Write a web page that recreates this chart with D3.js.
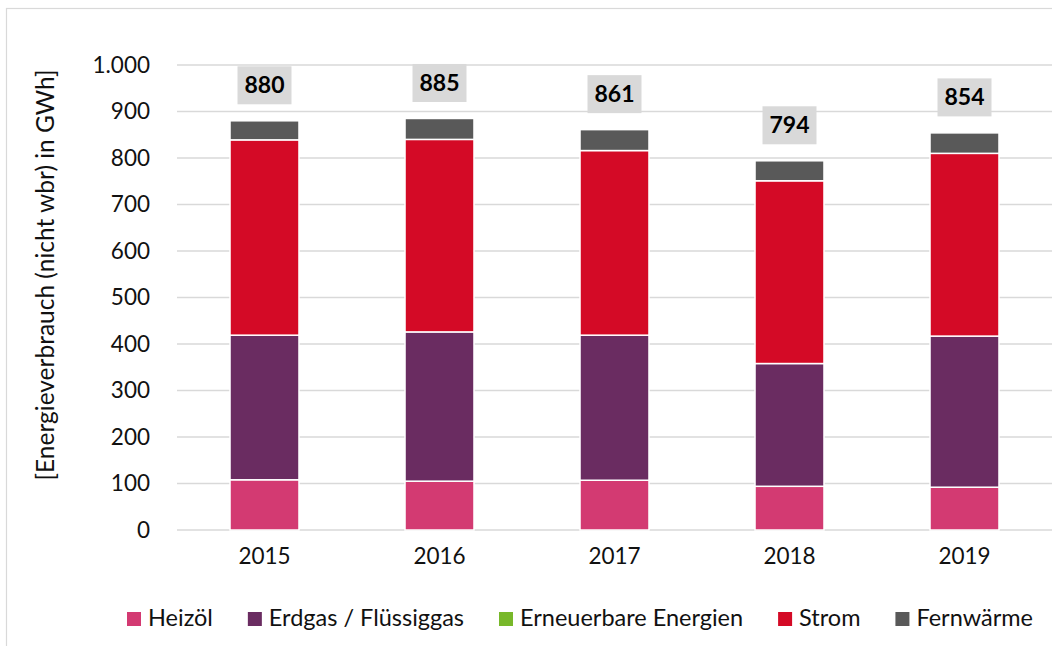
<!DOCTYPE html>
<html>
<head>
<meta charset="utf-8">
<script src="https://cdn.jsdelivr.net/npm/d3@7"></script>
<style>
  body { margin: 0; background: #fff; }
  svg { display: block; font-family: Lato, "Open Sans", sans-serif; }
</style>
</head>
<body>
<div id="chart"></div>
<script>
// Data
const years = ["2015", "2016", "2017", "2018", "2019"];
const seriesNames = ["Heizöl", "Erdgas / Flüssiggas", "Erneuerbare Energien", "Strom", "Fernwärme"];
const heizoel = [108, 105, 107, 94, 92];
const erdgas = [311, 321, 312, 264, 325];
const erneuerbar = [0, 0, 0, 0, 0];
const strom = [420, 414, 397, 393, 393];
const fernwaerme = [41, 45, 45, 43, 44];
const totals = [880, 885, 861, 794, 854];
const yTicks = [0, 100, 200, 300, 400, 500, 600, 700, 800, 900, 1000];
const colors = ["#d33a72", "#6a2c61", "#78b82a", "#d40a26", "#595959"];

const width = 1052;
const height = 646;

const table = years.map((y, i) => ({
  year: y,
  "Heizöl": heizoel[i],
  "Erdgas / Flüssiggas": erdgas[i],
  "Erneuerbare Energien": erneuerbar[i],
  "Strom": strom[i],
  "Fernwärme": fernwaerme[i],
  total: totals[i]
}));

const svg = d3.select("#chart")
  .append("svg")
  .attr("width", width)
  .attr("height", height);

// chart frame
svg.append("rect")
  .attr("x", 6.5).attr("y", 8.5)
  .attr("width", 1100).attr("height", 700)
  .attr("fill", "none")
  .attr("stroke", "#d9d9d9")
  .attr("stroke-width", 1.2);

const x = d3.scaleBand()
  .domain(years)
  .range([177, 1052])
  .paddingInner(0.606)
  .paddingOuter(0.303);

const y = d3.scaleLinear()
  .domain([0, 1000])
  .range([530, 65]);

const fmt = d3.formatLocale({ decimal: ",", thousands: ".", grouping: [3], currency: ["", "€"] }).format(",d");

// gridlines
svg.append("g")
  .selectAll("line")
  .data(yTicks)
  .enter()
  .append("line")
  .attr("x1", 177)
  .attr("x2", 1052)
  .attr("y1", d => y(d))
  .attr("y2", d => y(d))
  .attr("stroke", "#d9d9d9")
  .attr("stroke-width", 1.5);

// y axis labels
const yAxis = svg.append("g")
  .attr("transform", "translate(150,0)")
  .call(d3.axisLeft(y).tickValues(yTicks).tickFormat(fmt).tickSize(0).tickPadding(0));
yAxis.select(".domain").remove();
yAxis.selectAll("text")
  .attr("font-family", "Lato, sans-serif")
  .attr("font-size", 22.5)
  .attr("fill", "#111");

// x axis labels
const xAxis = svg.append("g")
  .attr("transform", "translate(0,548)")
  .call(d3.axisBottom(x).tickSize(0).tickPadding(0));
xAxis.select(".domain").remove();
xAxis.selectAll("text")
  .attr("font-family", "Lato, sans-serif")
  .attr("font-size", 22.5)
  .attr("fill", "#111");

// y axis title
svg.append("text")
  .attr("transform", "translate(54,275) rotate(-90)")
  .attr("text-anchor", "middle")
  .attr("font-size", 24.5)
  .attr("fill", "#111")
  .text("[Energieverbrauch (nicht wbr) in GWh]");

// stacked bars
const stack = d3.stack().keys(seriesNames);
const layers = stack(table);

svg.append("g")
  .selectAll("g")
  .data(layers)
  .enter()
  .append("g")
  .attr("fill", (d, i) => colors[i])
  .selectAll("rect")
  .data(d => d.filter(s => s[1] - s[0] > 0))
  .enter()
  .append("rect")
  .attr("x", d => x(d.data.year))
  .attr("width", x.bandwidth())
  .attr("y", d => y(d[1]))
  .attr("height", d => y(d[0]) - y(d[1]))
  .attr("stroke", "#fff")
  .attr("stroke-width", 1.5);

// total labels
const labels = svg.append("g")
  .selectAll("g")
  .data(table)
  .enter()
  .append("g")
  .attr("transform", d => `translate(${x(d.year) + x.bandwidth() / 2},${y(d.total) - 16.5})`);

labels.append("rect")
  .attr("x", -27)
  .attr("y", -38)
  .attr("width", 54)
  .attr("height", 38)
  .attr("fill", "#d9d9d9");

labels.append("text")
  .attr("y", -11)
  .attr("text-anchor", "middle")
  .attr("font-size", 23)
  .attr("font-weight", "bold")
  .attr("fill", "#000")
  .text(d => d.total);

// legend, spread between the two outer edges seen in the reference
const legendLeft = 127, legendRight = 1033;
const legend = svg.append("g").attr("transform", "translate(0,626)");
const items = legend.selectAll("g")
  .data(seriesNames)
  .enter()
  .append("g");

items.append("rect")
  .attr("y", -14)
  .attr("width", 14)
  .attr("height", 14)
  .attr("fill", (d, i) => colors[i]);

items.append("text")
  .attr("x", 21)
  .attr("y", 0)
  .attr("font-size", 23.5)
  .attr("fill", "#111")
  .text(d => d);

const widths = [];
items.each(function () { widths.push(21 + this.querySelector("text").getComputedTextLength()); });
const gap = (legendRight - legendLeft - d3.sum(widths)) / (widths.length - 1);
let cx = legendLeft;
items.each(function (d, i) {
  d3.select(this).attr("transform", `translate(${cx},0)`);
  cx += widths[i] + gap;
});
</script>
</body>
</html>
